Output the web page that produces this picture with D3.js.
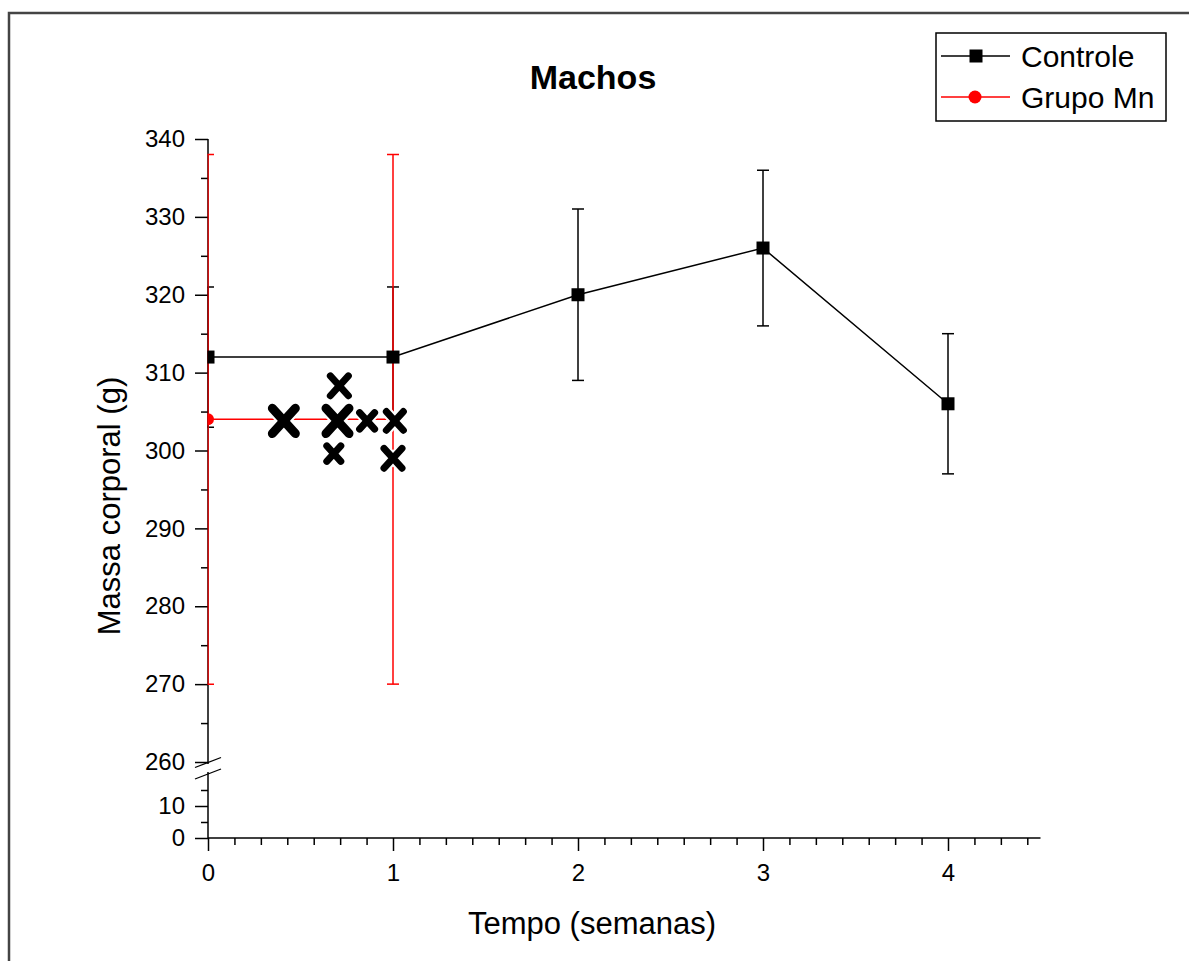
<!DOCTYPE html>
<html>
<head>
<meta charset="utf-8">
<script src="https://cdn.jsdelivr.net/npm/d3@7"></script>
<style>
  body { margin: 0; background: #fff; }
  text { font-family: "Liberation Sans", Arial, sans-serif; fill: #000; }
</style>
</head>
<body>
<div id="chart"></div>
<script>
    var width = 1189,
        height = 961;

    // data (weeks, grams)
    var weeks = [0, 1, 2, 3, 4];
    var controleMean = [312, 312, 320, 326, 306];
    var controleErr = [9, 9, 11, 10, 9];
    var grupoWeeks = [0, 1];
    var grupoMean = [304, 304];
    var grupoErr = [34, 34];

    // hand drawn X marks over the plot: [week, grams, size]
    var scribbleX = [0.41, 0.70, 0.71, 0.68, 0.86, 1.01, 1.00];
    var scribbleY = [303.8, 303.8, 308.3, 299.6, 303.8, 303.8, 299.0];
    var scribbleS = [31, 31, 26, 22, 23, 25, 26];

    var yMajorTop = [260, 270, 280, 290, 300, 310, 320, 330, 340];
    var yMajorBot = [0, 10];

    var svg = d3.select('#chart')
        .append('svg')
        .attr('width', width)
        .attr('height', height);

    // outer frame
    svg.append('rect')
        .attr('x', 9)
        .attr('y', 13)
        .attr('width', 1300)
        .attr('height', 1100)
        .attr('fill', 'none')
        .attr('stroke', '#444')
        .attr('stroke-width', 2.5);

    var x = d3.scaleLinear().domain([0, 4.5]).range([208, 1040.5]);
    var yTop = d3.scaleLinear().domain([260, 340]).range([762, 139]);
    var yBot = d3.scaleLinear().domain([0, 20]).range([838, 774]);

    // title
    svg.append('text')
        .attr('x', 593)
        .attr('y', 89)
        .attr('text-anchor', 'middle')
        .style('font-size', '34px')
        .style('font-weight', 'bold')
        .text('Machos');

    // axis labels
    svg.append('text')
        .attr('x', 592)
        .attr('y', 934)
        .attr('text-anchor', 'middle')
        .style('font-size', '31px')
        .text('Tempo (semanas)');

    svg.append('text')
        .attr('transform', 'translate(120,506) rotate(-90)')
        .attr('text-anchor', 'middle')
        .style('font-size', '31px')
        .text('Massa corporal (g)');

    // y axis, top segment
    var minorTop = d3.range(265, 340, 10);
    svg.append('g')
        .attr('transform', 'translate(208,0)')
        .call(d3.axisLeft(yTop).tickValues(yMajorTop).tickSize(13).tickSizeOuter(0).tickPadding(10))
        .call(styleAxis);
    svg.append('g')
        .attr('transform', 'translate(208,0)')
        .call(d3.axisLeft(yTop).tickValues(minorTop).tickSize(7).tickSizeOuter(0).tickFormat(''))
        .call(styleAxis);

    // y axis, bottom segment
    svg.append('g')
        .attr('transform', 'translate(208,0)')
        .call(d3.axisLeft(yBot).tickValues(yMajorBot).tickSize(13).tickSizeOuter(0).tickPadding(10))
        .call(styleAxis);
    svg.append('g')
        .attr('transform', 'translate(208,0)')
        .call(d3.axisLeft(yBot).tickValues([5, 15]).tickSize(7).tickSizeOuter(0).tickFormat(''))
        .call(styleAxis);

    // x axis (minor ticks every day)
    var minorX = d3.range(1, 32).filter(function (d) { return d % 7 !== 0; })
        .map(function (d) { return d / 7; });
    svg.append('g')
        .attr('transform', 'translate(0,838)')
        .call(d3.axisBottom(x).tickValues(weeks).tickFormat(d3.format('d')).tickSize(13).tickSizeOuter(0).tickPadding(13))
        .call(styleAxis);
    svg.append('g')
        .attr('transform', 'translate(0,838)')
        .call(d3.axisBottom(x).tickValues(minorX).tickSize(7).tickSizeOuter(0).tickFormat(''))
        .call(styleAxis);

    function styleAxis(g) {
        g.select('.domain').remove();
        g.selectAll('line').attr('stroke', '#000').attr('stroke-width', 1.5);
        g.selectAll('text').style('font-size', '24px').style('font-family', '"Liberation Sans", Arial, sans-serif');
    }

    // axis lines with break
    svg.append('line')
        .attr('x1', 208).attr('x2', 208)
        .attr('y1', yTop(340)).attr('y2', 764)
        .attr('stroke', '#000').attr('stroke-width', 1.5);
    svg.append('line')
        .attr('x1', 208).attr('x2', 208)
        .attr('y1', 772).attr('y2', 838)
        .attr('stroke', '#000').attr('stroke-width', 1.5);
    svg.append('line')
        .attr('x1', 208).attr('x2', x(4.5))
        .attr('y1', 838).attr('y2', 838)
        .attr('stroke', '#000').attr('stroke-width', 1.5);
    [762.5, 774].forEach(function (cy) {
        svg.append('line')
            .attr('x1', 195).attr('y1', cy + 5)
            .attr('x2', 221).attr('y2', cy - 5)
            .attr('stroke', '#000').attr('stroke-width', 1.3);
    });

    // plot clip
    svg.append('defs').append('clipPath')
        .attr('id', 'plot-clip')
        .append('rect')
        .attr('x', 207.5).attr('y', 100)
        .attr('width', 900).attr('height', 700);

    var plot = svg.append('g').attr('clip-path', 'url(#plot-clip)');

    var controle = weeks.map(function (w, i) {
        return { x: w, y: controleMean[i], e: controleErr[i] };
    });
    var grupo = grupoWeeks.map(function (w, i) {
        return { x: w, y: grupoMean[i], e: grupoErr[i] };
    });

    var line = d3.line()
        .x(function (d) { return x(d.x); })
        .y(function (d) { return yTop(d.y); });

    function errorBars(data, color) {
        var g = plot.append('g').attr('stroke', color).attr('stroke-width', 1.5);
        data.forEach(function (d) {
            var cx = x(d.x);
            g.append('line')
                .attr('x1', cx).attr('x2', cx)
                .attr('y1', yTop(d.y + d.e)).attr('y2', yTop(d.y - d.e));
            [d.y + d.e, d.y - d.e].forEach(function (v) {
                g.append('line')
                    .attr('x1', cx - 6).attr('x2', cx + 6)
                    .attr('y1', yTop(v)).attr('y2', yTop(v));
            });
        });
    }

    errorBars(controle, '#000');
    errorBars(grupo, '#ff0000');

    plot.append('path')
        .datum(controle)
        .attr('d', line)
        .attr('fill', 'none')
        .attr('stroke', '#000')
        .attr('stroke-width', 1.5);

    plot.append('path')
        .datum(grupo)
        .attr('d', line)
        .attr('fill', 'none')
        .attr('stroke', '#ff0000')
        .attr('stroke-width', 1.5);

    plot.selectAll('.sq')
        .data(controle)
        .enter()
        .append('rect')
        .attr('class', 'sq')
        .attr('x', function (d) { return x(d.x) - 6.5; })
        .attr('y', function (d) { return yTop(d.y) - 6.5; })
        .attr('width', 13)
        .attr('height', 13)
        .attr('fill', '#000');

    plot.selectAll('.dot')
        .data(grupo)
        .enter()
        .append('circle')
        .attr('class', 'dot')
        .attr('cx', function (d) { return x(d.x); })
        .attr('cy', function (d) { return yTop(d.y); })
        .attr('r', 6)
        .attr('fill', '#ff0000');

    // scribbled X marks
    var marks = scribbleX.map(function (v, i) {
        return { x: v, y: scribbleY[i], s: scribbleS[i] };
    });
    function xPath(d) {
        var cx = x(d.x), cy = yTop(d.y), h = d.s / 2 - 4;
        return 'M' + (cx - h) + ',' + (cy - h * 1.1) + 'L' + (cx + h) + ',' + (cy + h * 1.1) +
            'M' + (cx + h) + ',' + (cy - h * 1.1) + 'L' + (cx - h) + ',' + (cy + h * 1.1);
    }
    svg.selectAll('.xhalo')
        .data(marks)
        .enter()
        .append('path')
        .attr('d', xPath)
        .attr('stroke', '#fff')
        .attr('stroke-width', function (d) { return d.s > 26 ? 13 : 11; })
        .attr('stroke-linecap', 'round')
        .attr('fill', 'none');
    svg.selectAll('.xmark')
        .data(marks)
        .enter()
        .append('path')
        .attr('d', xPath)
        .attr('stroke', '#000')
        .attr('stroke-width', function (d) { return d.s > 26 ? 9 : 7; })
        .attr('stroke-linecap', 'round')
        .attr('fill', 'none');

    // legend
    var legend = svg.append('g');
    legend.append('rect')
        .attr('x', 936).attr('y', 33)
        .attr('width', 230).attr('height', 88)
        .attr('fill', '#fff')
        .attr('stroke', '#000')
        .attr('stroke-width', 1.5);

    var legendItems = ['Controle', 'Grupo Mn'];
    var legendColors = ['#000', '#ff0000'];
    legendItems.forEach(function (name, i) {
        var ly = 56 + i * 41;
        legend.append('line')
            .attr('x1', 941).attr('x2', 1010)
            .attr('y1', ly).attr('y2', ly)
            .attr('stroke', legendColors[i])
            .attr('stroke-width', 1.5);
        if (i === 0) {
            legend.append('rect')
                .attr('x', 969.5).attr('y', ly - 6.5)
                .attr('width', 13).attr('height', 13)
                .attr('fill', '#000');
        } else {
            legend.append('circle')
                .attr('cx', 975).attr('cy', ly)
                .attr('r', 6.5)
                .attr('fill', '#ff0000');
        }
        legend.append('text')
            .attr('x', 1021)
            .attr('y', ly + 11)
            .style('font-size', '30px')
            .text(name);
    });
</script>
</body>
</html>
